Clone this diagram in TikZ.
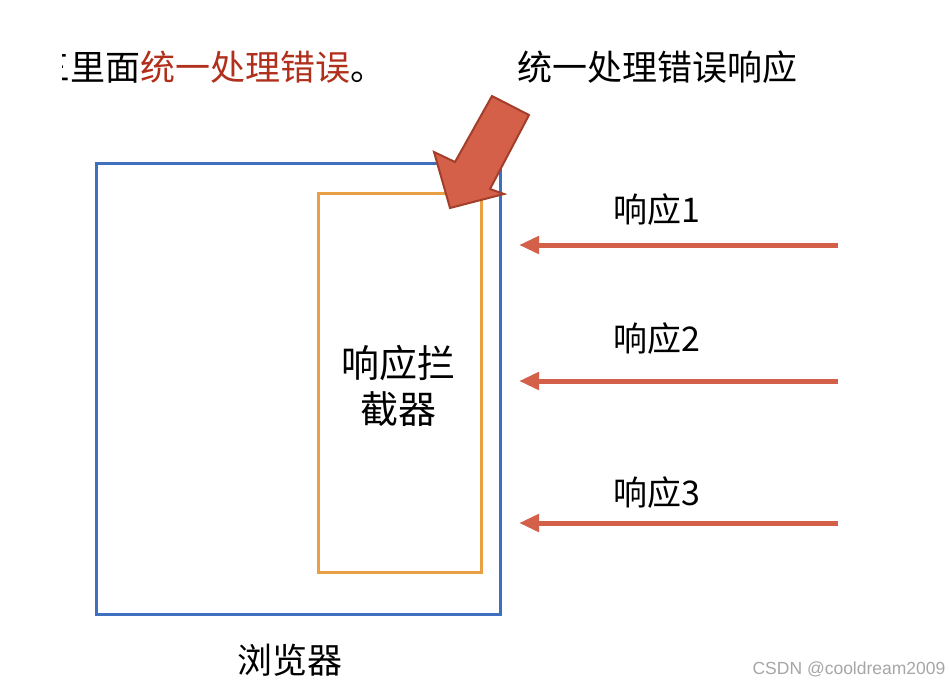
\documentclass[tikz,border=0pt]{standalone}
\usepackage{fontspec}
\setmainfont{Noto Sans CJK SC}
\newfontfamily\wmfont{Liberation Sans}
\usetikzlibrary{arrows.meta}
\definecolor{boxblue}{HTML}{3F6FBF}
\definecolor{boxorange}{HTML}{E9A045}
\definecolor{arrred}{HTML}{D4604A}
\definecolor{arredge}{HTML}{A23E2A}
\definecolor{txtred}{HTML}{B0301C}
\tikzset{
  cjk/.style={font=\fontsize{35}{42}\selectfont, inner sep=0pt, text=black},
  resp/.style={line width=5pt, draw=arrred, -{Triangle[length=20pt,width=17pt]}},
}
\begin{document}
\begin{tikzpicture}[x=1pt,y=-1pt]
\useasboundingbox (0,0) rectangle (949,686);
% top-left text (cut at left)
\begin{scope}
\clip (62,0) rectangle (949,686);
\node[cjk, anchor=east] (toptext) at (386,67) {三里面\textcolor{txtred}{统一处理错误}。};
\end{scope}
\node[cjk] (title) at (657,67) {统一处理错误响应};
% boxes
\draw[boxblue, line width=3pt] (96,163) rectangle (500,614);
\node[draw=boxorange, line width=3pt, minimum width=163pt, minimum height=379pt, inner sep=0pt] (inter) at (399.5,382.5) {};
\node[cjk, align=center, font=\fontsize{38}{46}\selectfont] (interlabel) at (398,386) {响应拦\\截器};
\node[cjk] (browser) at (290,660) {浏览器};
% big arrow
\filldraw[fill=arrred, draw=arredge, line width=2pt, line join=miter]
  (492,96) -- (529,115) -- (490,189) -- (504,194) -- (450,208) -- (434,152) -- (455,162) -- cycle;
% responses
\foreach \i/\y/\ly in {1/245/210, 2/381/339, 3/523/493} {
  \coordinate (s\i) at (838,\y);
  \coordinate (e\i) at (519,\y);
  \draw[resp] (s\i) -- (e\i);
  \node[cjk, font=\fontsize{34}{40}\selectfont] (r\i) at (657,\ly) {响应\i};
}
\node[font=\wmfont\fontsize{17.5}{20}\selectfont, text=black!35, inner sep=0pt] (wm) at (849,669) {CSDN @cooldream2009};
\end{tikzpicture}
\end{document}
